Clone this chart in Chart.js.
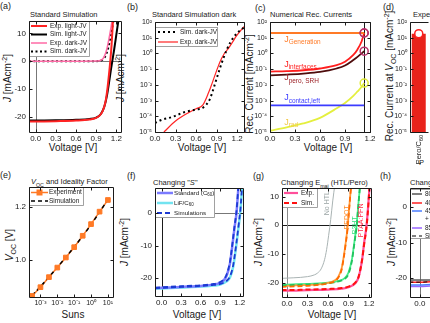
<!DOCTYPE html>
<html>
<head>
<meta charset="utf-8">
<script src="https://cdn.jsdelivr.net/npm/chart.js@4.4.1/dist/chart.umd.min.js"></script>
<style>
  body { margin: 0; width: 430px; height: 323px; overflow: hidden; background: #fff; position: relative;
         font-family: "Liberation Sans", Arial, sans-serif; color: #1a1a1a; }
  canvas { position: absolute; }
  .t { position: absolute; white-space: nowrap; line-height: 1; transform: translateY(-50%); color: #1a1a1a; }
  .c { position: absolute; white-space: nowrap; line-height: 1; transform: translate(-50%, -50%); color: #1a1a1a; }
  .r { position: absolute; white-space: nowrap; line-height: 1; transform: translate(-50%, -50%) rotate(-90deg); color: #1a1a1a; }
  .lab { font-size: 9px; }
  .ttl { font-size: 7.5px; }
  .ax { font-size: 10px; }
  sub, sup { font-size: 70%; line-height: 0; }
</style>
</head>
<body>
<!-- panel letters -->
<div class="t lab" style="left:0px;top:6px">(a)</div>
<div class="t lab" style="left:127px;top:7px">(b)</div>
<div class="t lab" style="left:255px;top:8px">(c)</div>
<div class="t lab" style="left:383px;top:7px">(d)</div>
<div class="t lab" style="left:0px;top:175px">(e)</div>
<div class="t lab" style="left:127px;top:176px">(f)</div>
<div class="t lab" style="left:253px;top:176px">(g)</div>
<div class="t lab" style="left:380px;top:176px">(h)</div>

<!-- panel titles -->
<div class="t ttl" style="left:30px;top:15px">Standard Simulation</div>
<div class="t ttl" style="left:152px;top:15px">Standard Simulation dark</div>
<div class="t ttl" style="left:270px;top:15px">Numerical Rec. Currents</div>
<div class="t ttl" style="left:413px;top:15px">Experiment</div>
<div class="t ttl" style="left:31px;top:182px"><i>V</i><sub>OC</sub> and Ideality Factor</div>
<div class="t ttl" style="left:153px;top:183px">Changing "<i>S</i>"</div>
<div class="t ttl" style="left:281px;top:183px">Changing E<sub>maj</sub> (HTL/Pero)</div>
<div class="t ttl" style="left:410px;top:183px">Changing Thickness</div>
<div class="t ttl" style="left:419px;top:163px">P</div>

<!-- axis titles -->
<div class="r ax" style="left:8px;top:78px"><i>J</i> [mAcm<sup>-2</sup>]</div>
<div class="r ax" style="left:121px;top:78px"><i>J</i> [mAcm<sup>-2</sup>]</div>
<div class="r ax" style="left:250px;top:84px">Rec. Current [mAcm<sup>-2</sup>]</div>
<div class="r ax" style="left:390px;top:76px">Rec. Current at <i>V</i><sub>OC</sub> [mAcm<sup>-2</sup>]</div>
<div class="r ax" style="left:10px;top:245px"><i>V</i><sub>OC</sub> [V]</div>
<div class="r ax" style="left:125px;top:242px"><i>J</i> [mAcm<sup>-2</sup>]</div>
<div class="r ax" style="left:259px;top:242px"><i>J</i> [mAcm<sup>-2</sup>]</div>
<div class="r ax" style="left:392px;top:242px"><i>J</i> [mAcm<sup>-2</sup>]</div>
<div class="c ax" style="left:73px;top:148px">Voltage [V]</div>
<div class="c ax" style="left:202px;top:148px">Voltage [V]</div>
<div class="c ax" style="left:328px;top:148px">Voltage [V]</div>
<div class="c ax" style="left:73px;top:315px">Suns</div>
<div class="c ax" style="left:197px;top:315px">Voltage [V]</div>
<div class="c ax" style="left:332px;top:315px">Voltage [V]</div>

<script>
// ---------- data ----------

// (a) standard simulation, light and dark J-V
const vExpLight = [-0.1, 0, 0.3, 0.6, 0.8, 0.9, 0.95, 1.0, 1.04, 1.07, 1.09, 1.11, 1.13, 1.15];
const jExpLight = [-21.7, -21.7, -21.6, -21.4, -21.0, -20.4, -19.6, -17.8, -14.5, -9.5, -5, 0, 6, 14.5];
const vSimLight = [-0.1, 0, 0.3, 0.6, 0.8, 0.9, 0.97, 1.02, 1.06, 1.09, 1.12, 1.14, 1.17, 1.2, 1.23];
const jSimLight = [-21.4, -21.4, -21.3, -21.1, -20.8, -20.3, -19.0, -16.5, -12.5, -8, -3, 0, 4.5, 9.5, 14.5];
const vExpDark = [-0.1, 0.3, 0.6, 0.9, 0.95, 1.0, 1.03, 1.06, 1.09, 1.12, 1.14];
const jExpDark = [0, 0, 0, 0.05, 0.2, 0.9, 2.2, 4.5, 8, 12, 15];
const vSimDark = [-0.1, 0.3, 0.6, 0.9, 0.95, 1.0, 1.04, 1.08, 1.12, 1.16];
const jSimDark = [0, 0, 0, 0.03, 0.15, 0.7, 2.0, 4.8, 9.5, 15];

// (b) dark J-V on log scale
const vSimDarkLog = [0, 0.1, 0.25, 0.44, 0.6, 0.7, 0.8, 0.85, 0.9, 0.95, 1.0, 1.05, 1.1, 1.2, 1.3];
const jSimDarkLog = [3.8e-5, 6e-5, 9e-5, 1.9e-4, 2.7e-4, 3.5e-4, 1.2e-3, 5e-3, 2.5e-2, 0.12, 0.5, 1.8, 5, 20, 45];
const vExpDarkLog = [0.13, 0.3, 0.49, 0.6, 0.7, 0.78, 0.84, 0.9, 0.95, 1.0, 1.07, 1.13, 1.19, 1.25, 1.3];
const jExpDarkLog = [1e-5, 5e-5, 1.7e-4, 3e-4, 5.4e-4, 3e-3, 1.5e-2, 0.08, 0.3, 0.8, 2, 5, 13, 28, 50];

// (c) numerical recombination currents
const vRec = [0, 0.2, 0.4, 0.6, 0.8, 0.9, 1.0, 1.05, 1.1, 1.13];
const jGeneration = [20, 20, 20, 20, 20, 20, 20, 20, 20, 20];
const jInterfaces = [0.07, 0.075, 0.085, 0.11, 0.18, 0.3, 0.8, 1.8, 6, 20];
const jPeroSRH = [0.04, 0.045, 0.052, 0.066, 0.11, 0.17, 0.38, 0.6, 1.0, 1.4];
const jContactLeft = [5e-4, 5e-4, 5e-4, 5e-4, 5e-4, 5e-4, 5e-4, 5e-4, 5e-4, 5e-4];
const jRad = [1.2e-5, 2e-5, 3.5e-5, 8e-5, 3.2e-4, 7e-4, 2e-3, 3.8e-3, 7.5e-3, 1.3e-2];
const vOC = 1.13;
const vocMarks = [20, 20, 1.4];
const vocMarkRad = [1.3e-2];

// (d) recombination current at Voc
const devices = ['Pero/C_{60}'];
const jRecAtVoc = [18];

// (e) Voc vs light intensity
const suns = [3.2e-4, 1e-3, 3.2e-3, 1e-2, 3.2e-2, 0.1, 0.32, 1, 3.2, 10];
const vocExp = [0.864, 0.897, 0.935, 0.971, 1.009, 1.048, 1.091, 1.135, 1.182, 1.226];
const vocSim = [0.866, 0.899, 0.936, 0.972, 1.010, 1.049, 1.090, 1.133, 1.180, 1.228];

// (f) changing S
const vStd = [-0.1, 0, 0.3, 0.6, 0.8, 0.9, 0.95, 1.0, 1.05, 1.09, 1.12, 1.15, 1.18];
const jStdExp = [-23.1, -23.0, -22.7, -22.4, -22.0, -21.5, -20.8, -19.2, -15.5, -9.5, -4.5, 0, 8];
const jStdSim = [-22.9, -22.8, -22.5, -22.2, -21.8, -21.2, -20.5, -18.8, -15, -9, -4, 0.5, 8.5];
const vLiF = [-0.1, 0, 0.3, 0.6, 0.8, 0.9, 1.0, 1.05, 1.1, 1.15, 1.19, 1.21, 1.24];
const jLiFExp = [-23.3, -23.2, -22.9, -22.6, -22.3, -22.0, -21.0, -19.8, -16.5, -9.5, -3, 0.5, 9];
const jLiFSim = [-23.1, -23.0, -22.7, -22.4, -22.1, -21.8, -20.8, -19.5, -16, -9, -2.5, 1, 9.5];

// (g) changing HTL
const vNoHTL = [-0.08, 0.1, 0.3, 0.4, 0.45, 0.5, 0.55, 0.58, 0.61, 0.64, 0.67, 0.7];
const jNoHTL = [-18.5, -18.3, -17.9, -17.3, -16.6, -15.2, -12, -8.5, -3.5, 2, 8.5, 14];
const vPedot = [-0.08, 0, 0.3, 0.5, 0.6, 0.7, 0.75, 0.8, 0.83, 0.86, 0.89, 0.91, 0.94];
const jPedotExp = [-21.2, -21.1, -20.8, -20.5, -20.1, -19.2, -18, -15, -11, -6, 0, 6, 14];
const jPedotSim = [-21.5, -21.4, -21.1, -20.7, -20.3, -19.5, -18.3, -15.5, -11.5, -6.5, -0.5, 5.5, 14];
const vP3ht = [-0.08, 0, 0.3, 0.6, 0.75, 0.85, 0.9, 0.95, 0.98, 1.0, 1.02, 1.04, 1.07];
const jP3htExp = [-20.8, -20.7, -20.4, -20, -19.4, -18.3, -16.5, -12, -7, -3.5, 0, 6, 14];
const jP3htSim = [-21.0, -20.9, -20.6, -20.2, -19.6, -18.6, -17, -12.5, -7.5, -4, -0.5, 5.5, 14];
const vPtaa = [-0.08, 0, 0.3, 0.6, 0.8, 0.9, 1.0, 1.05, 1.1, 1.13, 1.16, 1.18, 1.21];
const jPtaaExp = [-22.8, -22.8, -22.6, -22.4, -22.1, -21.6, -20.2, -18, -12, -6, -1, 4, 14];
const jPtaaSim = [-22.6, -22.6, -22.4, -22.2, -21.9, -21.4, -20.0, -17.8, -12, -6.5, -1.5, 3.5, 14];

// (h) changing thickness (only the part near V = 0 is visible)
const vThick = [-0.15, 0, 0.15];
const jThickA = [-20.6, -20.6, -20.6];
const jThickB = [-21.2, -21.2, -21.1];
const jThickC = [-22.0, -22.0, -21.9];
const jThickD = [-22.4, -22.4, -22.3];

// ticks
const vTicks = [0, 0.3, 0.6, 0.9, 1.2];
const logTicks = [1e-5, 1e-4, 1e-3, 1e-2, 1e-1, 1, 10, 100];
const sunsTicks = [1e-3, 1e-2, 1e-1, 1, 10];
const vocTicks = [1.0, 1.2];
const jTicksA = [-20, -10, 0, 10];
const jTicksF = [-20, -10, 0];
const jTicksG = [-20, -10, 0, 10];
const jTicksH = [-20, -10, 0];

// ---------- helpers ----------
const FONT = '"Liberation Sans", Arial, sans-serif';
Chart.defaults.font.family = FONT;
Chart.defaults.font.size = 8;
Chart.defaults.color = '#1a1a1a';

const pts = (xs, ys) => xs.map((x, i) => ({ x, y: ys[i] }));
const SUP = { '-': '⁻', '0': '⁰', '1': '¹', '2': '²', '3': '³', '4': '⁴', '5': '⁵' };
const fLog = v => '10' + String(Math.round(Math.log10(v))).split('').map(ch => SUP[ch]).join('');
const f1 = v => v.toFixed(1);
const fInt = v => String(v);

function line(label, xs, ys, color, width, dash) {
    return {
        label, data: pts(xs, ys), borderColor: color, backgroundColor: color, borderWidth: width,
        borderDash: dash || [], pointRadius: 0, fill: false, cubicInterpolationMode: 'monotone'
    };
}

function scale(type, min, max, values, fmt, pad, size) {
    return {
        type, min, max,
        grid: { display: false, drawTicks: false },
        border: { display: false },
        afterBuildTicks: s => { s.ticks = values.map(value => ({ value })); },
        ticks: { autoSkip: false, maxRotation: 0, minRotation: 0, padding: pad, callback: fmt,
                 font: { size: size || 8 } }
    };
}

// text with _{sub} and ^{sup}; align: 'left' | 'center' | 'right'
function drawRich(ctx, str, x, y, size, color, rot, align) {
    const parts = [];
    str.replace(/([_^])\{([^}]*)\}|([^_^]+)/g, (m, mode, inner, plain) => {
        parts.push(plain !== undefined ? { t: plain, k: 0 } : { t: inner, k: mode === '_' ? 1 : -1 });
        return m;
    });
    const fontOf = p => `${p.k ? size * 0.72 : size}px ${FONT}`;
    ctx.save();
    ctx.translate(x, y);
    ctx.rotate(rot || 0);
    ctx.fillStyle = color;
    ctx.textBaseline = 'middle';
    ctx.textAlign = 'left';
    let w = 0;
    parts.forEach(p => { ctx.font = fontOf(p); p.w = ctx.measureText(p.t).width; w += p.w; });
    let cx = align === 'center' ? -w / 2 : align === 'right' ? -w : 0;
    parts.forEach(p => {
        ctx.font = fontOf(p);
        const dy = p.k === 1 ? size * 0.35 : p.k === -1 ? -size * 0.4 : 0;
        ctx.fillText(p.t, cx, dy);
        cx += p.w;
    });
    ctx.restore();
}

function drawLegend(chart, L) {
    const { ctx, chartArea: a } = chart;
    const x0 = a.left + L.x, y0 = a.top + L.y;
    ctx.setLineDash([]);
    ctx.fillStyle = '#fff';
    ctx.fillRect(x0, y0, L.w, L.h);
    ctx.strokeStyle = '#8a8a8a';
    ctx.lineWidth = 0.8;
    ctx.strokeRect(x0 + 0.5, y0 + 0.5, L.w - 1, L.h - 1);
    L.items.forEach((it, i) => {
        const yy = y0 + L.rows[i];
        const ds = it.ds !== undefined ? chart.data.datasets[it.ds] : null;
        if (ds) {
            ctx.strokeStyle = ds.borderColor;
            ctx.lineWidth = ds.borderWidth;
            ctx.setLineDash(ds.borderDash || []);
            ctx.beginPath();
            ctx.moveTo(x0 + L.sx, yy);
            ctx.lineTo(x0 + L.sx + L.sw, yy);
            ctx.stroke();
            ctx.setLineDash([]);
            if (it.marker) {
                ctx.fillStyle = ds.borderColor;
                ctx.fillRect(x0 + L.sx + L.sw / 2 - 3, yy - 3, 6, 6);
            }
        }
        drawRich(ctx, it.text || ds.label, x0 + L.tx, yy, L.size, '#1a1a1a', 0, 'left');
    });
}

// reference lines, annotations, legend box and the closed frame with inward ticks
function decor(spec) {
    return {
        id: 'decor',
        beforeDatasetsDraw(chart) {
            const { ctx, chartArea: a, scales } = chart;
            ctx.save();
            ctx.beginPath();
            ctx.rect(a.left, a.top, a.right - a.left, a.bottom - a.top);
            ctx.clip();
            ctx.lineWidth = 1;
            (spec.hLines || []).forEach(h => {
                const py = Math.round(scales.y.getPixelForValue(h.value)) + 0.5;
                ctx.strokeStyle = h.color;
                ctx.beginPath(); ctx.moveTo(a.left, py); ctx.lineTo(a.right, py); ctx.stroke();
            });
            (spec.vLines || []).forEach(v => {
                const px = Math.round(scales.x.getPixelForValue(v.value)) + 0.5;
                ctx.strokeStyle = v.color;
                ctx.beginPath(); ctx.moveTo(px, a.top); ctx.lineTo(px, a.bottom); ctx.stroke();
            });
            ctx.restore();
        },
        afterDatasetsDraw(chart) {
            const { ctx, chartArea: a, scales } = chart;
            ctx.save();
            (spec.notes || []).forEach(n => {
                drawRich(ctx, n.text, scales.x.getPixelForValue(n.x), scales.y.getPixelForValue(n.y),
                    n.size, n.color, n.rot ? -Math.PI / 2 : 0, n.rot ? 'center' : 'left');
            });
            if (spec.categoryLabels) {
                chart.data.labels.forEach((lab, i) => {
                    drawRich(ctx, lab, scales.x.getPixelForValue(i), a.bottom + 3, 7.5, '#1a1a1a', -Math.PI / 2, 'right');
                });
            }
            if (spec.legend) drawLegend(chart, spec.legend);

            const L = Math.round(a.left) + 0.5, T = Math.round(a.top) + 0.5;
            const R = Math.round(a.right) + 0.5, B = Math.round(a.bottom) + 0.5;
            ctx.setLineDash([]);
            ctx.strokeStyle = '#1a1a1a';
            ctx.lineWidth = 1;
            ctx.beginPath();
            ctx.moveTo(R, B); ctx.lineTo(L, B); ctx.lineTo(L, T); ctx.lineTo(R, T);
            if (!spec.openRight) ctx.lineTo(R, B);
            ctx.stroke();
            ctx.beginPath();
            if (!spec.noXTicks) {
                scales.x.ticks.forEach(t => {
                    const px = Math.round(scales.x.getPixelForValue(t.value)) + 0.5;
                    ctx.moveTo(px, B); ctx.lineTo(px, B - 3);
                    ctx.moveTo(px, T); ctx.lineTo(px, T + 3);
                });
            }
            scales.y.ticks.forEach(t => {
                const py = Math.round(scales.y.getPixelForValue(t.value)) + 0.5;
                ctx.moveTo(L, py); ctx.lineTo(L + 3, py);
                if (!spec.openRight) { ctx.moveTo(R, py); ctx.lineTo(R - 3, py); }
            });
            ctx.stroke();
            ctx.restore();
        }
    };
}

// area = plot box on the page [left, top, right, bottom]; pads = room for y axis, top, right, x axis
function panel(area, pads, config, deco) {
    const [l, t, r, b] = area;
    const [pl, pt, pr, pb] = pads;
    const canvas = document.createElement('canvas');
    canvas.width = r - l + pl + pr;
    canvas.height = b - t + pt + pb;
    canvas.style.left = (l - pl) + 'px';
    canvas.style.top = (t - pt) + 'px';
    document.body.appendChild(canvas);
    const o = config.options;
    o.responsive = false;
    o.animation = false;
    o.events = [];
    o.layout = { padding: { left: 0, top: pt, right: pr, bottom: 0 } };
    o.plugins = { legend: { display: false }, tooltip: { enabled: false } };
    o.scales.x.afterFit = s => { s.height = pb; s.paddingLeft = s.paddingRight = s.paddingTop = s.paddingBottom = 0; };
    o.scales.y.afterFit = s => { s.width = pl; s.paddingLeft = s.paddingRight = s.paddingTop = s.paddingBottom = 0; };
    config.plugins = [decor(deco || {})];
    return new Chart(canvas, config);
}

const PADS = [28, 8, 6, 16];

// (a)
panel([29, 21, 121, 132], PADS, {
    type: 'line',
    data: { datasets: [
        line('Exp. light-JV', vExpLight, jExpLight, '#ff2323', 2),
        line('Sim. light-JV', vSimLight, jSimLight, '#000000', 2),
        line('Exp. dark-JV', vExpDark, jExpDark, '#ff6aa6', 1.5),
        line('Sim. dark-JV', vSimDark, jSimDark, '#000000', 2, [2, 2.5])
    ] },
    options: { scales: {
        x: scale('linear', -0.1, 1.27, vTicks, f1, 2),
        y: scale('linear', -25.5, 14.5, jTicksA, fInt, 3)
    } }
}, {
    hLines: [{ value: 0, color: '#777' }],
    vLines: [{ value: 0, color: '#777' }],
    legend: { x: 0, y: 0, w: 61, h: 36, rows: [5, 13.5, 22, 30.5], sx: 2, sw: 16, tx: 21, size: 6.5,
              items: [{ ds: 0 }, { ds: 1 }, { ds: 2 }, { ds: 3 }] }
});

// (b)
panel([155, 22, 244, 132], PADS, {
    type: 'line',
    data: { datasets: [
        line('Sim. dark-JV', vSimDarkLog, jSimDarkLog, '#000000', 2, [2, 3]),
        line('Exp. dark-JV', vExpDarkLog, jExpDarkLog, '#ff2323', 1.2)
    ] },
    options: { scales: {
        x: scale('linear', 0, 1.3, vTicks, f1, 2),
        y: scale('logarithmic', 1e-5, 100, logTicks, fLog, 3, 7)
    } }
}, {
    legend: { x: 0, y: 5, w: 63, h: 20, rows: [5, 15], sx: 3, sw: 20, tx: 25, size: 6.5,
              items: [{ ds: 0 }, { ds: 1 }] }
});

// (c)
panel([270, 22, 370, 132], PADS, {
    type: 'line',
    data: { datasets: [
        { type: 'scatter', data: pts([vOC, vOC, vOC], vocMarks), pointRadius: 4, pointBorderWidth: 1.5,
          pointBorderColor: '#b8306a', pointBackgroundColor: 'rgba(0,0,0,0)' },
        { type: 'scatter', data: pts([vOC], vocMarkRad), pointRadius: 4, pointBorderWidth: 1.5,
          pointBorderColor: '#e2ec3a', pointBackgroundColor: 'rgba(0,0,0,0)' },
        line('Generation', vRec, jGeneration, '#ff7a26', 1.8),
        line('Interfaces', vRec, jInterfaces, '#ff1e1e', 1.8),
        line('Pero SRH', vRec, jPeroSRH, '#4e0c0c', 1.8),
        line('Contact left', vRec, jContactLeft, '#3b3bff', 1.8),
        line('Radiative', vRec, jRad, '#e4ef3e', 1.8)
    ] },
    options: { scales: {
        x: scale('linear', 0, 1.2, vTicks, f1, 2),
        y: scale('logarithmic', 1e-5, 100, logTicks, fLog, 3, 7)
    } }
}, {
    vLines: [{ value: vOC, color: '#1a1a1a' }],
    notes: [
        { x: 0.17, y: 8, text: 'J_{Generation}', color: '#ff7a26', size: 9 },
        { x: 0.17, y: 0.21, text: 'J_{interfaces}', color: '#ff1e1e', size: 9 },
        { x: 0.17, y: 0.028, text: 'J_{pero, SRH}', color: '#9a1c22', size: 9 },
        { x: 0.17, y: 1.5e-3, text: 'J_{contact,left}', color: '#3b3bff', size: 9 },
        { x: 0.17, y: 4e-5, text: 'J_{rad}', color: '#f2c94a', size: 9 }
    ]
});

// (d)
panel([410, 22, 429, 132], [28, 8, 4, 40], {
    type: 'bar',
    data: { labels: devices, datasets: [
        { type: 'line', data: jRecAtVoc, showLine: false, pointRadius: 4, pointBorderWidth: 1.5,
          pointBorderColor: '#ff1e1e', pointBackgroundColor: '#ffffff' },
        { data: jRecAtVoc, backgroundColor: '#e8231b', borderWidth: 0, barPercentage: 0.8, categoryPercentage: 1 }
    ] },
    options: { scales: {
        x: { type: 'category', grid: { display: false, drawTicks: false }, border: { display: false },
             ticks: { display: false } },
        y: scale('logarithmic', 1e-5, 100, logTicks, fLog, 3, 7)
    } }
}, { openRight: true, noXTicks: true, categoryLabels: true });

// (e)
panel([29, 187, 113, 297], PADS, {
    type: 'line',
    data: { datasets: [
        { type: 'scatter', data: pts(suns, vocExp), pointStyle: 'rect', pointRadius: 3.3,
          pointBackgroundColor: '#ff7a26', pointBorderColor: '#ff7a26', order: 1 },
        Object.assign(line('Simulation', suns, vocSim, '#000000', 1.5, [4, 3]), { order: 2 }),
        Object.assign(line('Experiment', suns, vocExp, '#ff7a26', 1.5), { order: 3 })
    ] },
    options: { scales: {
        x: scale('logarithmic', 2.1e-4, 20, sunsTicks, fLog, 2, 7),
        y: scale('linear', 0.86, 1.275, vocTicks, f1, 3)
    } }
}, {
    legend: { x: 0, y: 0, w: 55, h: 19, rows: [5.5, 14], sx: 2, sw: 17, tx: 20, size: 6.5,
              items: [{ ds: 2, marker: true }, { ds: 1 }] }
});

// (f)
panel([155, 188, 243, 296], PADS, {
    type: 'line',
    data: { datasets: [
        line('Simulations', vStd, jStdSim, '#1c3ad2', 1.8, [5, 3]),
        line('Simulations', vLiF, jLiFSim, '#1c3ad2', 1.8, [5, 3]),
        line('Standard (C_{60})', vStd, jStdExp, '#7b7bff', 2.5),
        line('LiF/C_{60}', vLiF, jLiFExp, '#72e3f0', 2.5)
    ] },
    options: { scales: {
        x: scale('linear', -0.1, 1.25, vTicks, f1, 2),
        y: scale('linear', -25.5, 7.7, jTicksF, fInt, 3)
    } }
}, {
    hLines: [{ value: 0, color: '#777' }],
    vLines: [{ value: 0, color: '#1a1a1a' }],
    legend: { x: 0, y: 0, w: 60, h: 30, rows: [5, 15, 25], sx: 2, sw: 16, tx: 19, size: 6.2,
              items: [{ ds: 2 }, { ds: 3 }, { ds: 0 }] }
});

// (g)
panel([282, 188, 371, 297], PADS, {
    type: 'line',
    data: { datasets: [
        line('Sim.', vPtaa, jPtaaSim, '#ff1010', 2, [5, 3]),
        line('Sim. PEDOT', vPedot, jPedotSim, '#ff6a00', 1.8, [5, 3]),
        line('Sim. P3HT', vP3ht, jP3htSim, '#22c25e', 1.8, [5, 3]),
        line('Exp.', vPtaa, jPtaaExp, '#ff4f9a', 2.2),
        line('PEDOT', vPedot, jPedotExp, '#ff9a3a', 1.8),
        line('P3HT', vP3ht, jP3htExp, '#45ef8a', 1.8),
        line('No HTL', vNoHTL, jNoHTL, '#a9b3b3', 1)
    ] },
    options: { scales: {
        x: scale('linear', -0.073, 1.23, vTicks, f1, 2),
        y: scale('linear', -25, 13, jTicksG, fInt, 3)
    } }
}, {
    hLines: [{ value: 0, color: '#1a1a1a' }],
    vLines: [{ value: 0, color: '#8a8a8a' }],
    notes: [
        { x: 0.585, y: 7.7, text: 'No HTL', color: '#9aa4a4', size: 7, rot: true },
        { x: 0.886, y: 2.8, text: 'PEDOT', color: '#ff8a26', size: 7, rot: true },
        { x: 0.995, y: 0, text: 'P3HT', color: '#30e07a', size: 7, rot: true },
        { x: 1.09, y: 1.7, text: 'PTAA:PFN', color: '#ff2a4a', size: 7, rot: true }
    ],
    legend: { x: 0, y: 0, w: 36, h: 20, rows: [5, 15], sx: 2, sw: 14, tx: 19, size: 6.5,
              items: [{ ds: 3 }, { ds: 0 }] }
});

// (h)
panel([410, 188, 507, 297], PADS, {
    type: 'line',
    data: { datasets: [
        line('Sim.', vThick, jThickB, '#000000', 1, [4, 3]),
        line('800 nm', vThick, jThickA, '#555555', 1.5),
        line('400 nm', vThick, jThickB, '#ff2020', 1.5),
        line('450 nm', vThick, jThickC, '#4a7dff', 1.5),
        line('850 nm', vThick, jThickD, '#9966ff', 1.5)
    ] },
    options: { scales: {
        x: scale('linear', -0.14, 1.25, vTicks, f1, 2),
        y: scale('linear', -25.4, 5.4, jTicksH, fInt, 3)
    } }
}, {
    vLines: [{ value: 0, color: '#777' }],
    legend: { x: 0, y: 1, w: 90, h: 50, rows: [5, 14, 22, 30, 39, 47], sx: 2, sw: 10, tx: 15, size: 6.5,
              items: [{ ds: 1 }, { ds: 2 }, { ds: 3 }, { text: '+ LiF' }, { ds: 4 }, { ds: 0 }] }
});
</script>
</body>
</html>
